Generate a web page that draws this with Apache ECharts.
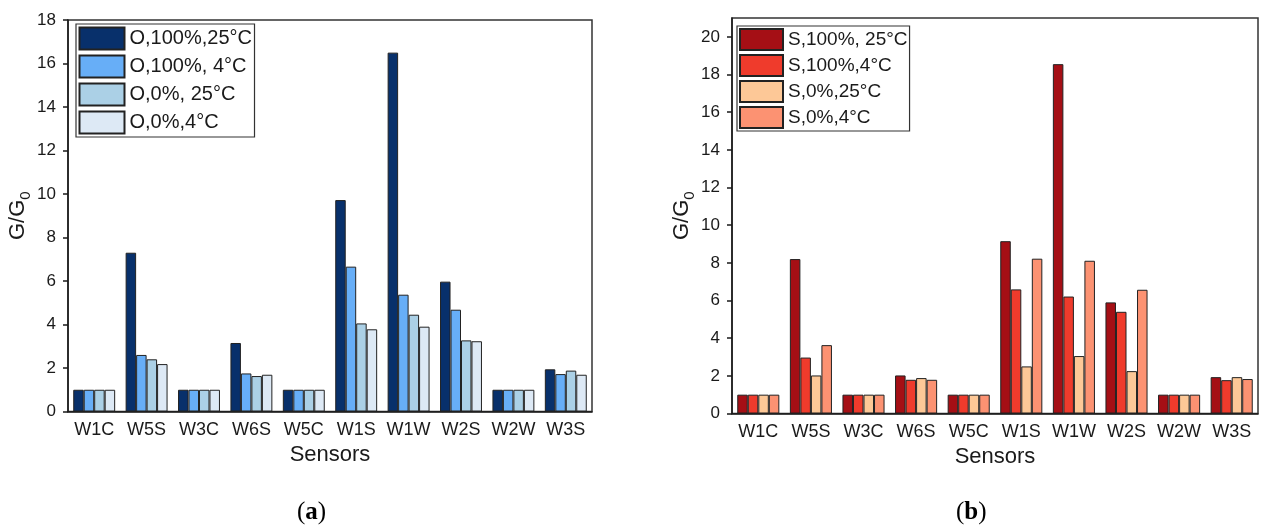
<!DOCTYPE html>
<html>
<head>
<meta charset="utf-8">
<style>
  html, body { margin: 0; padding: 0; background: #fff; }
  #chart { width: 1261px; height: 529px; }
</style>
<script src="https://cdn.jsdelivr.net/npm/echarts@6/dist/echarts.min.js"></script>
</head>
<body>
<div id="chart"></div>
<script>
// Sensor names along both x axes
const sensors = ['W1C', 'W5S', 'W3C', 'W6S', 'W5C', 'W1S', 'W1W', 'W2S', 'W2W', 'W3S'];

// Panel (a): O series, G/G0
const oNames = ['O,100%,25°C', 'O,100%, 4°C', 'O,0%, 25°C', 'O,0%,4°C'];
const o100_25 = [1, 7.3, 1, 3.15, 1, 9.72, 16.5, 5.97, 1, 1.94];
const o100_4  = [1, 2.6, 1, 1.75, 1, 6.66, 5.37, 4.68, 1, 1.72];
const o0_25   = [1, 2.4, 1, 1.63, 1, 4.05, 4.45, 3.27, 1, 1.88];
const o0_4    = [1, 2.18, 1, 1.69, 1, 3.78, 3.9, 3.23, 1, 1.69];

// Panel (b): S series, G/G0
const sNames = ['S,100%, 25°C', 'S,100%,4°C', 'S,0%,25°C', 'S,0%,4°C'];
const s100_25 = [1, 8.2, 1, 2.02, 1, 9.15, 18.55, 5.9, 1, 1.93];
const s100_4  = [1, 2.97, 1, 1.79, 1, 6.59, 6.21, 5.4, 1, 1.77];
const s0_25   = [1, 2.02, 1, 1.88, 1, 2.5, 3.05, 2.25, 1, 1.93];
const s0_4    = [1, 3.63, 1, 1.79, 1, 8.22, 8.11, 6.57, 1, 1.83];

// Tick values
const ticksA = [0, 2, 4, 6, 8, 10, 12, 14, 16, 18];
const ticksB = [0, 2, 4, 6, 8, 10, 12, 14, 16, 18, 20];

const blues = ['#08306b', '#67aef7', '#abd0e6', '#dde9f5'];
const reds  = ['#a50f15', '#ef3b2c', '#fdc897', '#fc9272'];

const FONT = 'Liberation Sans, Arial, sans-serif';
const INK = '#1a1a1a';

function xAxes(gridIndex) {
  return [
    {
      type: 'category', gridIndex, data: sensors,
      axisLine: { lineStyle: { color: INK, width: 1.5 } },
      axisTick: { alignWithLabel: true, interval: 0, length: 5, lineStyle: { color: INK, width: 1.5 } },
      axisLabel: { color: INK, fontSize: 18, fontFamily: FONT, margin: 10, interval: 0 },
      name: 'Sensors', nameLocation: 'middle', nameGap: 31,
      nameTextStyle: { color: INK, fontSize: 22, fontFamily: FONT }
    },
    {
      type: 'category', gridIndex, data: sensors,
      axisLine: { show: false },
      axisTick: { interval: 0, length: 3, lineStyle: { color: INK, width: 1.5 } },
      axisLabel: { show: false }
    }
  ];
}

function yAxis(gridIndex, max, ticks, gap) {
  return {
    type: 'value', gridIndex, min: 0, max, interval: 2,
    splitLine: { show: false },
    axisLine: { show: true, lineStyle: { color: INK, width: 1.5 } },
    axisTick: { show: true, length: 5, customValues: ticks, lineStyle: { color: INK, width: 1.5 } },
    axisLabel: { color: INK, fontSize: 17, fontFamily: FONT, margin: 12, customValues: ticks },
    name: 'G/G{sub|0}', nameLocation: 'middle', nameRotate: 90, nameGap: gap,
    nameTextStyle: {
      color: INK, fontSize: 22, fontFamily: FONT,
      rich: { sub: { fontSize: 15, fontFamily: FONT, color: INK, lineHeight: 31, verticalAlign: 'bottom' } }
    }
  };
}

function barSeries(names, arrays, colors, axisIndex) {
  return arrays.map((arr, i) => ({
    name: names[i], type: 'bar', xAxisIndex: axisIndex, yAxisIndex: axisIndex / 2,
    data: arr, barGap: '0%', barCategoryGap: '20%',
    itemStyle: { color: colors[i], borderColor: '#222', borderWidth: 1 },
    emphasis: { disabled: true }
  }));
}

const chart = echarts.init(document.getElementById('chart'), null, { renderer: 'canvas' });

chart.setOption({
  backgroundColor: '#fff',
  animation: false,
  grid: [
    { left: 68, top: 20, right: 669, bottom: 117.5, show: true, borderColor: '#333', borderWidth: 1.5 },
    { left: 732, top: 18, right: 3, bottom: 115.5, show: true, borderColor: '#333', borderWidth: 1.5 }
  ],
  xAxis: [...xAxes(0), ...xAxes(1)],
  yAxis: [yAxis(0, 18, ticksA, 34), yAxis(1, 21, ticksB, 34)],
  legend: [
    {
      data: oNames, left: 76, top: 24, orient: 'vertical',
      icon: 'rect', itemWidth: 45, itemHeight: 22, itemGap: 4, padding: 2.5,
      borderColor: '#333', borderWidth: 1.2,
      textStyle: { color: INK, fontSize: 20, fontFamily: FONT }, selectedMode: false
    },
    {
      data: sNames, left: 737, top: 26, orient: 'vertical',
      icon: 'rect', itemWidth: 43, itemHeight: 21, itemGap: 3, padding: 2,
      borderColor: '#333', borderWidth: 1.2,
      textStyle: { color: INK, fontSize: 19, fontFamily: FONT }, selectedMode: false
    }
  ],
  graphic: [
    {
      type: 'text', left: 297, top: 500,
      style: {
        text: '({b|a})', fontSize: 25, fontFamily: 'Liberation Serif, serif', fill: '#000',
        rich: { b: { fontSize: 25, fontWeight: 'bold', fontFamily: 'Liberation Serif, serif', fill: '#000' } }
      }
    },
    {
      type: 'text', left: 956, top: 500,
      style: {
        text: '({b|b})', fontSize: 25, fontFamily: 'Liberation Serif, serif', fill: '#000',
        rich: { b: { fontSize: 25, fontWeight: 'bold', fontFamily: 'Liberation Serif, serif', fill: '#000' } }
      }
    }
  ],
  series: [
    ...barSeries(oNames, [o100_25, o100_4, o0_25, o0_4], blues, 0),
    ...barSeries(sNames, [s100_25, s100_4, s0_25, s0_4], reds, 2)
  ]
});
</script>
</body>
</html>
